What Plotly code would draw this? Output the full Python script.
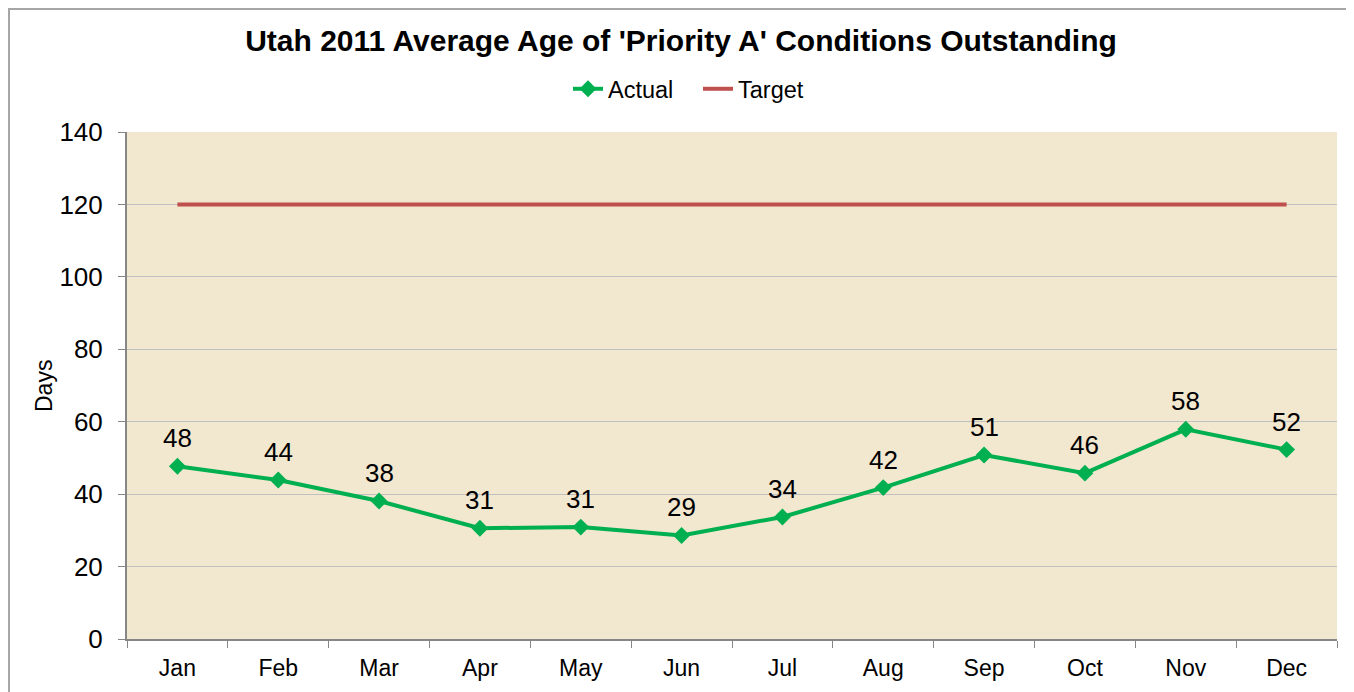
import plotly.graph_objects as go

months = ["Jan", "Feb", "Mar", "Apr", "May", "Jun", "Jul", "Aug", "Sep", "Oct", "Nov", "Dec"]
actual = [47.7, 43.9, 38.1, 30.6, 30.9, 28.6, 33.7, 41.8, 50.8, 45.8, 57.9, 52.3]
actual_labels = ["48", "44", "38", "31", "31", "29", "34", "42", "51", "46", "58", "52"]
target = [120] * 12

# page body has an 8px margin, so the figure is drawn 8px in from the window edge
W, H = 1346, 684
L, R, T, B = 119, 17, 124, 53
pw, ph = W - L - R, H - T - B

fig = go.Figure()
fig.add_trace(go.Scatter(
    x=months, y=actual, name="Actual", mode="lines+markers",
    line=dict(color="#00B050", width=4),
    marker=dict(symbol="diamond", size=13, color="#00B050"),
))
fig.add_trace(go.Scatter(
    x=months, y=target, name="Target", mode="lines",
    line=dict(color="#C0504D", width=4),
))

for m, v, t in zip(months, actual, actual_labels):
    fig.add_annotation(
        x=m, y=v, text=t, showarrow=False, yshift=28,
        xanchor="center", yanchor="middle",
        font=dict(family="Liberation Sans, Arial", size=26, color="#000000"),
    )

fig.update_layout(
    width=W, height=H,
    margin=dict(l=L, r=R, t=T, b=B),
    paper_bgcolor="#FFFFFF",
    plot_bgcolor="#F2E7CF",
    font=dict(family="Liberation Sans, Arial", color="#000000"),
    title=dict(
        text="<b>Utah 2011 Average Age of 'Priority A' Conditions Outstanding</b>",
        x=(681 - 8) / W, xanchor="center", xref="container",
        y=1 - 32 / H, yanchor="middle", yref="container",
        font=dict(size=30, family="Liberation Sans, Arial", color="#000000"),
    ),
    legend=dict(
        orientation="h", x=(690 - L) / pw, xanchor="center",
        y=(H - B - 81) / ph, yanchor="middle",
        font=dict(size=23.5), bgcolor="rgba(0,0,0,0)",
        itemwidth=30, entrywidth=85, entrywidthmode="pixels",
    ),
    showlegend=True,
)

fig.update_xaxes(
    type="category", showgrid=False,
    showline=True, linecolor="#868686", linewidth=2,
    ticks="outside", tickson="boundaries", ticklen=7, tickcolor="#868686", tickwidth=1,
    tickfont=dict(size=23), ticklabelstandoff=7,
    range=[-0.5, 11.5], fixedrange=True,
)
fig.update_yaxes(
    range=[0, 140], dtick=20, showgrid=True, gridcolor="#C0C0C0", gridwidth=1,
    showline=True, linecolor="#868686", linewidth=2,
    ticks="outside", ticklen=7, tickcolor="#868686", tickwidth=1,
    tickfont=dict(size=26), ticklabelstandoff=10, zeroline=False,
)

fig.add_annotation(
    text="Days", textangle=-90, showarrow=False,
    xref="paper", yref="paper",
    x=(36 - L) / pw, y=(H - B - 378) / ph,
    xanchor="center", yanchor="middle",
    font=dict(size=23),
)

fig.add_shape(
    type="rect", xref="paper", yref="paper",
    x0=(1 - L) / pw, x1=(W + 5 - L) / pw,
    y0=(H - B - (H + 5)) / ph, y1=(H - B - 1) / ph,
    line=dict(color="#A6A6A6", width=2), fillcolor="rgba(0,0,0,0)",
    layer="below",
)

fig.write_html("out.html")
